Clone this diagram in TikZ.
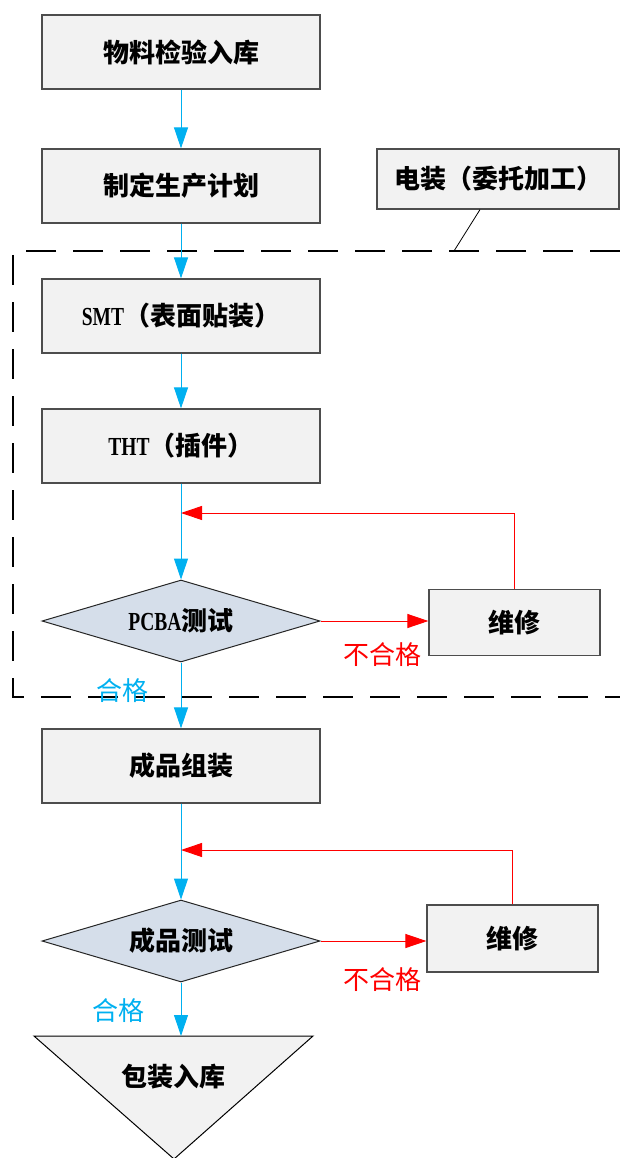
\documentclass[tikz,border=0pt]{standalone}
\usepackage{fontspec}
\newfontfamily\cjk{Noto Sans CJK SC}
\newfontfamily\latn[FakeStretch=0.75]{Liberation Serif}
\usetikzlibrary{arrows.meta,shapes.geometric}
\definecolor{boxfill}{HTML}{F2F2F2}
\definecolor{boxline}{HTML}{4D4D4D}
\definecolor{dfill}{HTML}{D5DEEA}
\definecolor{cblue}{HTML}{00B0F0}
\definecolor{cred}{HTML}{FF0000}
\begin{document}
\begin{tikzpicture}[x=1pt,y=-1pt,
  txt/.style={font=\cjk\fontsize{26}{28}\selectfont\bfseries},
  proc/.style={txt,draw=boxline,line width=1.2pt,fill=boxfill,minimum width=278pt,minimum height=74pt,inner sep=0pt},
  rep/.style={proc,minimum width=171pt,minimum height=66pt},
  dec/.style={txt,shape=diamond,draw=black!85,line width=1pt,fill=dfill,aspect=3.4,minimum width=278pt,minimum height=82pt,inner sep=0pt},
  barrow/.style={draw=cblue,line width=1pt,-{Triangle[length=21pt,width=14pt]}},
  rarrow/.style={draw=cred,line width=1pt,-{Triangle[length=21pt,width=14pt]}},
  frame/.style={draw=black,line width=1.8pt,dash pattern=on 30pt off 17pt},
  redlbl/.style={font=\cjk\fontsize{26}{28}\selectfont,text=cred},
  bluelbl/.style={font=\cjk\fontsize{26}{28}\selectfont,text=cblue}]
\useasboundingbox (0,0) rectangle (620,1158);
% dashed frame
\coordinate (fa) at (620,251);
\coordinate (fb) at (13,251);
\coordinate (fc) at (13,697);
\coordinate (fd) at (620,697);
\draw[frame] (fa) -- (fb) -- (fc) -- (fd);
% nodes
\node[proc] (b1) at (181,52) {物料检验入库};
\node[proc] (b2) at (181,186) {制定生产计划};
\node[proc,minimum width=242pt,minimum height=60pt] (eb) at (498,179) {电装（委托加工）};
\node[proc] (b3) at (181,316) {{\latn SMT}（表面贴装）};
\node[proc] (b4) at (181,446) {{\latn THT}（插件）};
\node[dec] (d1) at (181,621) {{\latn PCBA}测试};
\node[rep] (r1) at (514.5,622.5) {维修};
\node[proc] (b5) at (181,766) {成品组装};
\node[dec] (d2) at (181,941) {成品测试};
\node[rep,minimum height=67pt] (r2) at (512.5,938.5) {维修};
% triangle
\coordinate (t1) at (34,1036);
\coordinate (t2) at (313,1036);
\coordinate (t3) at (174,1159);
\coordinate (tt) at (181,1036);
\fill[boxfill] (t1) -- (t2) -- (t3) -- cycle;
\draw[black,line width=1pt] (t1) -- (t2) -- (t3) -- cycle;
\node[txt] (pk) at (173,1077) {包装入库};
% labels
\node[redlbl] (f1) at (382,655) {不合格};
\node[bluelbl] (p1) at (122,691) {合格};
\node[redlbl] (f2) at (382,980) {不合格};
\node[bluelbl] (p2) at (118,1011) {合格};
% callout
\coordinate (c1) at (454,251);
\draw[black,line width=0.8pt] ([xshift=-18pt]eb.south) -- (c1);
% flow
\draw[barrow] (b1.south) -- (b2.north);
\draw[barrow] (b2.south) -- (b3.north);
\draw[barrow] (b3.south) -- (b4.north);
\draw[barrow] (b4.south) -- (d1.north);
\draw[barrow] (d1.south) -- (b5.north);
\draw[barrow] (b5.south) -- (d2.north);
\draw[barrow] (d2.south) -- (tt);
% repair loops
\coordinate (j1) at (181,513);
\coordinate (j2) at (181,850);
\draw[rarrow] (d1.east) -- (r1.west |- d1.east);
\draw[rarrow] (r1.north) |- (j1);
\draw[rarrow] (d2.east) -- (r2.west |- d2.east);
\draw[rarrow] (r2.north) |- (j2);
\end{tikzpicture}
\end{document}
